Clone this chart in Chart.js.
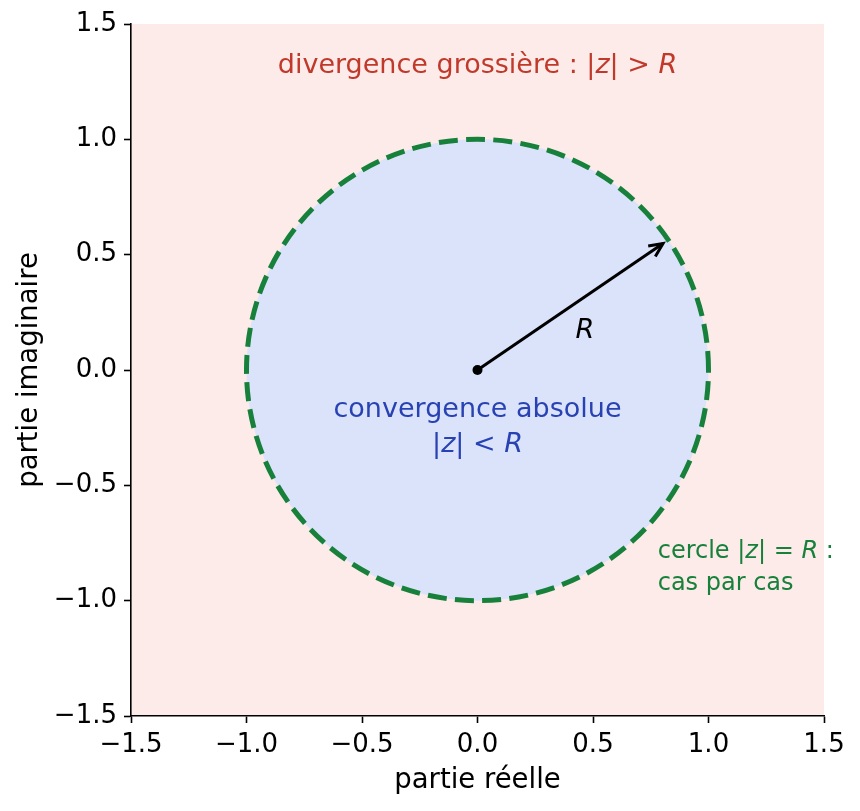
<!DOCTYPE html>
<html>
<head>
<meta charset="utf-8">
<script src="https://cdn.jsdelivr.net/npm/chart.js@4/dist/chart.umd.min.js"></script>
<style>
  body { margin: 0; background: #fff; }
  #wrap { width: 860px; height: 811px; }
</style>
</head>
<body>
<div id="wrap"><canvas id="disc"></canvas></div>
<script>
// axis ticks
const tickValues = [-1.5, -1.0, -0.5, 0.0, 0.5, 1.0, 1.5];
const tickLabels = ['\u22121.5', '\u22121.0', '\u22120.5', '0.0', '0.5', '1.0', '1.5'];

// disc of convergence
const circleCenter = [0, 0];
const circleRadius = [1];
const arrowEnd = [0.803, 0.548];

// annotations: [x, y] in data units, parts are [text, italic]
const outsideLabelPos = [0, 1.316];
const outsideLabel = [['divergence grossi\u00e8re : |', 0], ['z', 1], ['| > ', 0], ['R', 1]];
const insideLabelPos = [[0, -0.172], [0, -0.323]];
const insideLabel = [[['convergence absolue', 0]], [['|', 0], ['z', 1], ['| < ', 0], ['R', 1]]];
const edgeLabelPos = [[0.78, -0.79], [0.78, -0.925]];
const edgeLabel = [[['cercle |', 0], ['z', 1], ['| = ', 0], ['R', 1], [' :', 0]], [['cas par cas', 0]]];
const radiusLabelPos = [0.465, 0.17];

const FONT = "'DejaVu Sans'";
Chart.defaults.font.family = FONT;
Chart.defaults.color = '#000';

function drawRich(ctx, parts, x, y, size, color, align) {
    let total = 0;
    const widths = parts.map(function(p) {
        ctx.font = (p[1] ? 'italic ' : '') + size + 'px ' + FONT;
        const w = ctx.measureText(p[0]).width;
        total += w;
        return w;
    });
    let cx = align === 'center' ? x - total / 2 : x;
    ctx.fillStyle = color;
    ctx.textAlign = 'left';
    ctx.textBaseline = 'middle';
    parts.forEach(function(p, i) {
        ctx.font = (p[1] ? 'italic ' : '') + size + 'px ' + FONT;
        ctx.fillText(p[0], cx, y);
        cx += widths[i];
    });
}

const background = {
    id: 'background',
    beforeDraw(chart) {
        const a = chart.chartArea;
        const ctx = chart.ctx;
        ctx.save();
        ctx.fillStyle = '#fdebe9';
        ctx.fillRect(a.left, a.top, a.right - a.left, a.bottom - a.top);
        ctx.restore();
    }
};

const disc = {
    id: 'disc',
    beforeDatasetsDraw(chart) {
        const ctx = chart.ctx;
        const x = chart.scales.x, y = chart.scales.y;
        const cx = x.getPixelForValue(circleCenter[0]);
        const cy = y.getPixelForValue(circleCenter[1]);
        const rx = x.getPixelForValue(circleCenter[0] + circleRadius[0]) - cx;
        const ry = cy - y.getPixelForValue(circleCenter[1] + circleRadius[0]);
        ctx.save();
        ctx.beginPath();
        ctx.ellipse(cx, cy, rx, ry, 0, 0, 2 * Math.PI);
        ctx.fillStyle = '#dae3fa';
        ctx.fill();
        ctx.beginPath();
        ctx.ellipse(cx, cy, rx, ry, 0, 0, -2 * Math.PI, true);
        ctx.setLineDash([19, 8.3]);
        ctx.lineWidth = 5;
        ctx.strokeStyle = '#17803a';
        ctx.stroke();
        ctx.restore();
    },
    afterDatasetsDraw(chart) {
        const ctx = chart.ctx;
        const x = chart.scales.x, y = chart.scales.y;
        ctx.save();
        // arrow head
        const x0 = x.getPixelForValue(circleCenter[0]), y0 = y.getPixelForValue(circleCenter[1]);
        const x1 = x.getPixelForValue(arrowEnd[0]), y1 = y.getPixelForValue(arrowEnd[1]);
        const ang = Math.atan2(y1 - y0, x1 - x0);
        const len = 15, spread = 25 * Math.PI / 180;
        ctx.beginPath();
        ctx.moveTo(x1 - len * Math.cos(ang - spread), y1 - len * Math.sin(ang - spread));
        ctx.lineTo(x1, y1);
        ctx.lineTo(x1 - len * Math.cos(ang + spread), y1 - len * Math.sin(ang + spread));
        ctx.lineWidth = 3;
        ctx.lineJoin = 'miter';
        ctx.strokeStyle = '#000';
        ctx.stroke();

        drawRich(ctx, outsideLabel, x.getPixelForValue(outsideLabelPos[0]),
            y.getPixelForValue(outsideLabelPos[1]), 27, '#c0392b', 'center');
        insideLabel.forEach(function(line, i) {
            drawRich(ctx, line, x.getPixelForValue(insideLabelPos[i][0]),
                y.getPixelForValue(insideLabelPos[i][1]), 27, '#2942b3', 'center');
        });
        edgeLabel.forEach(function(line, i) {
            drawRich(ctx, line, x.getPixelForValue(edgeLabelPos[i][0]),
                y.getPixelForValue(edgeLabelPos[i][1]), 24, '#17803a', 'left');
        });
        drawRich(ctx, [['R', 1]], x.getPixelForValue(radiusLabelPos[0]),
            y.getPixelForValue(radiusLabelPos[1]), 27, '#000', 'center');
        ctx.restore();
    }
};

function axisOptions(title, titlePad) {
    return {
        type: 'linear',
        min: tickValues[0],
        max: tickValues[tickValues.length - 1],
        afterBuildTicks: function(scale) {
            scale.ticks = tickValues.map(function(v) { return { value: v }; });
        },
        ticks: {
            font: { size: 26 },
            padding: 7,
            maxRotation: 0,
            autoSkip: false,
            callback: function(value, index) { return tickLabels[index]; }
        },
        grid: {
            drawOnChartArea: false,
            tickLength: 7,
            tickWidth: 1.6,
            tickColor: '#000'
        },
        border: { display: true, color: '#000', width: 1.6 },
        title: { display: true, text: title, font: { size: 27.5 }, padding: titlePad }
    };
}

const xAxis = axisOptions('partie r\u00e9elle', { top: 4, bottom: 14 });
xAxis.afterFit = function(scale) { scale.height = 95; };
const yAxis = axisOptions('partie imaginaire', { top: 13, bottom: 13 });
yAxis.afterFit = function(scale) { scale.width = 131; };

new Chart(document.getElementById('disc').getContext('2d'), {
    type: 'scatter',
    data: {
        datasets: [{
            data: [{ x: circleCenter[0], y: circleCenter[1] }, { x: arrowEnd[0], y: arrowEnd[1] }],
            showLine: true,
            borderColor: '#000',
            borderWidth: 3,
            pointRadius: 0
        }, {
            data: [{ x: circleCenter[0], y: circleCenter[1] }],
            pointRadius: 5,
            pointBackgroundColor: '#000',
            pointBorderWidth: 0
        }]
    },
    options: {
        responsive: true,
        maintainAspectRatio: false,
        animation: false,
        layout: { padding: { left: 0, right: 36, top: 24, bottom: 0 } },
        scales: { x: xAxis, y: yAxis },
        plugins: { legend: { display: false }, tooltip: { enabled: false } }
    },
    plugins: [background, disc]
});
</script>
</body>
</html>
